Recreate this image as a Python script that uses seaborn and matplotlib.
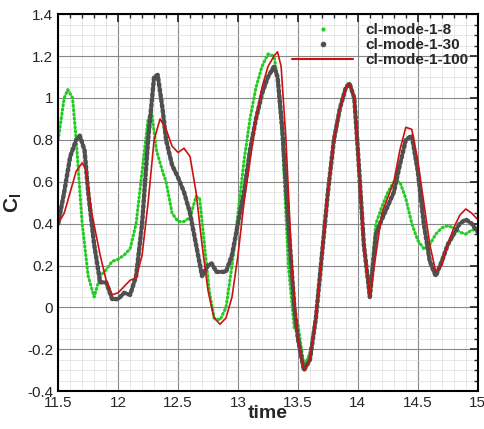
import matplotlib
matplotlib.use('Agg')
import matplotlib.pyplot as plt
import seaborn as sns
from matplotlib.lines import Line2D
from matplotlib.ticker import MultipleLocator

sns.set_theme(style='white')
plt.rcParams['font.family'] = ['Liberation Sans', 'DejaVu Sans']

t_100 = [11.5, 11.55, 11.6, 11.65, 11.7, 11.73, 11.78, 11.85, 11.9, 11.95, 12.0, 12.05, 12.1, 12.15,
         12.2, 12.25, 12.3, 12.35, 12.4, 12.45, 12.5, 12.55, 12.6, 12.65, 12.7, 12.75, 12.8, 12.85,
         12.9, 12.95, 13.0, 13.05, 13.1, 13.15, 13.2, 13.25, 13.3, 13.33, 13.36, 13.4, 13.45, 13.5,
         13.55, 13.6, 13.65, 13.7, 13.75, 13.8, 13.85, 13.9, 13.93, 13.97, 14.0, 14.05, 14.1, 14.15,
         14.2, 14.3, 14.35, 14.4, 14.45, 14.5, 14.55, 14.6, 14.65, 14.7, 14.75, 14.8, 14.85, 14.9,
         14.95, 15.0]
cl_100 = [0.40, 0.45, 0.55, 0.65, 0.69, 0.66, 0.45, 0.25, 0.13, 0.06, 0.07, 0.10, 0.13, 0.14,
          0.25, 0.50, 0.80, 0.90, 0.85, 0.77, 0.74, 0.76, 0.72, 0.55, 0.30, 0.08, -0.05, -0.08,
          -0.05, 0.05, 0.25, 0.50, 0.70, 0.90, 1.05, 1.15, 1.20, 1.22, 1.15, 0.80, 0.20, -0.15,
          -0.30, -0.25, -0.05, 0.25, 0.55, 0.80, 0.95, 1.05, 1.07, 1.00, 0.75, 0.30, 0.05, 0.25,
          0.45, 0.60, 0.75, 0.86, 0.85, 0.70, 0.50, 0.30, 0.17, 0.20, 0.30, 0.38, 0.44, 0.47,
          0.45, 0.42]

t_30 = [11.5, 11.55, 11.6, 11.65, 11.68, 11.72, 11.75, 11.8, 11.85, 11.9, 11.95, 12.0, 12.05, 12.1,
        12.15, 12.2, 12.25, 12.3, 12.33, 12.37, 12.4, 12.45, 12.5, 12.55, 12.6, 12.65, 12.7, 12.75,
        12.78, 12.82, 12.9, 12.95, 13.0, 13.05, 13.1, 13.15, 13.2, 13.25, 13.3, 13.33, 13.37, 13.42,
        13.47, 13.5, 13.55, 13.6, 13.65, 13.7, 13.75, 13.8, 13.85, 13.9, 13.93, 13.97, 14.0, 14.05,
        14.1, 14.15, 14.2, 14.3, 14.35, 14.4, 14.45, 14.5, 14.55, 14.6, 14.65, 14.7, 14.75, 14.8,
        14.85, 14.9, 14.95, 15.0]
cl_30 = [0.40, 0.55, 0.72, 0.80, 0.82, 0.75, 0.55, 0.30, 0.12, 0.12, 0.04, 0.04, 0.07, 0.06,
         0.15, 0.40, 0.80, 1.10, 1.11, 0.95, 0.80, 0.68, 0.62, 0.55, 0.45, 0.30, 0.15, 0.20,
         0.21, 0.17, 0.17, 0.25, 0.40, 0.55, 0.75, 0.90, 1.02, 1.10, 1.15, 1.10, 0.85, 0.40,
         0.00, -0.15, -0.30, -0.25, -0.05, 0.25, 0.55, 0.80, 0.95, 1.05, 1.07, 1.00, 0.75, 0.30,
         0.05, 0.35, 0.42, 0.55, 0.68, 0.80, 0.82, 0.65, 0.40, 0.22, 0.15, 0.22, 0.30, 0.35,
         0.40, 0.42, 0.40, 0.36]

t_8 = [11.5, 11.55, 11.58, 11.62, 11.65, 11.7, 11.75, 11.8, 11.85, 11.9, 11.95, 12.0, 12.05, 12.1,
       12.15, 12.2, 12.25, 12.28, 12.32, 12.37, 12.4, 12.45, 12.5, 12.55, 12.6, 12.65, 12.68, 12.72,
       12.76, 12.8, 12.85, 12.9, 12.95, 13.0, 13.05, 13.1, 13.15, 13.2, 13.25, 13.3, 13.33, 13.37,
       13.42, 13.47, 13.5, 13.55, 13.6, 13.65, 13.7, 13.75, 13.8, 13.85, 13.9, 13.93, 13.97, 14.0,
       14.05, 14.1, 14.15, 14.2, 14.25, 14.3, 14.35, 14.4, 14.45, 14.5, 14.55, 14.6, 14.65, 14.7,
       14.75, 14.8, 14.85, 14.9, 14.95, 15.0]
cl_8 = [0.80, 1.00, 1.04, 1.00, 0.80, 0.40, 0.15, 0.05, 0.15, 0.18, 0.22, 0.23, 0.25, 0.28,
        0.40, 0.65, 0.90, 0.93, 0.75, 0.65, 0.60, 0.45, 0.41, 0.41, 0.43, 0.53, 0.52, 0.30,
        0.08, -0.05, -0.06, 0.00, 0.20, 0.45, 0.70, 0.90, 1.05, 1.15, 1.21, 1.20, 1.10, 0.80,
        0.20, -0.10, -0.08, -0.28, -0.22, -0.05, 0.25, 0.55, 0.80, 0.95, 1.05, 1.07, 1.00, 0.75,
        0.30, 0.05, 0.40, 0.48, 0.55, 0.60, 0.60, 0.52, 0.40, 0.32, 0.28, 0.30, 0.35, 0.38,
        0.39, 0.38, 0.36, 0.35, 0.37, 0.37]

fig = plt.figure(figsize=(4.85, 4.29), dpi=100)
ax = fig.add_axes([0.12, 0.088, 0.865, 0.879])

ax.grid(True, which='major', color='#888888', linewidth=0.8)
ax.grid(True, which='minor', color='#dddddd', linewidth=0.5)
ax.set_axisbelow(True)

# dense point traces drawn as dotted lines
sns.lineplot(x=t_8, y=cl_8, ax=ax, color='#22cc22', linewidth=2.2,
             linestyle=(0, (0.4, 1.0)), dash_capstyle='round', sort=False)
sns.lineplot(x=t_30, y=cl_30, ax=ax, color='#505050', linewidth=3.2,
             linestyle=(0, (0.5, 0.7)), dash_capstyle='round', sort=False)
sns.lineplot(x=t_100, y=cl_100, ax=ax, color='#cc1111', linewidth=1.2, sort=False)

ax.set_xlim(11.5, 15)
ax.set_ylim(-0.4, 1.4)
ax.xaxis.set_minor_locator(MultipleLocator(0.1))
ax.yaxis.set_minor_locator(MultipleLocator(0.05))
ax.set_xticks([11.5, 12, 12.5, 13, 13.5, 14, 14.5, 15])
ax.set_xticklabels(['11.5', '12', '12.5', '13', '13.5', '14', '14.5', '15'])
ax.set_yticks([-0.4, -0.2, 0, 0.2, 0.4, 0.6, 0.8, 1.0, 1.2, 1.4])
ax.set_yticklabels(['-0.4', '-0.2', '0', '0.2', '0.4', '0.6', '0.8', '1', '1.2', '1.4'])
ax.tick_params(which='both', direction='in', top=True, right=True, labelsize=11)
ax.tick_params(which='major', length=6)
ax.tick_params(which='minor', length=3)
for s in ax.spines.values():
    s.set_color('black')
    s.set_linewidth(1.5)

ax.set_xlabel('time', fontsize=14, fontweight='bold', labelpad=-4)
ax.set_ylabel('C$_\\mathregular{l}$', fontsize=15, fontweight='bold', labelpad=2)

handles = [Line2D([], [], color='#22cc22', marker='o', markersize=2, linestyle=''),
           Line2D([], [], color='#505050', marker='o', markersize=3, linestyle=''),
           Line2D([], [], color='#cc1111', linewidth=1.5)]
ax.legend(handles, ['cl-mode-1-8', 'cl-mode-1-30', 'cl-mode-1-100'], loc='upper right',
          frameon=False, prop={'weight': 'bold', 'size': 11},
          handlelength=4, borderaxespad=0.2, labelspacing=0.05)

fig.savefig('out.png', dpi=100)
